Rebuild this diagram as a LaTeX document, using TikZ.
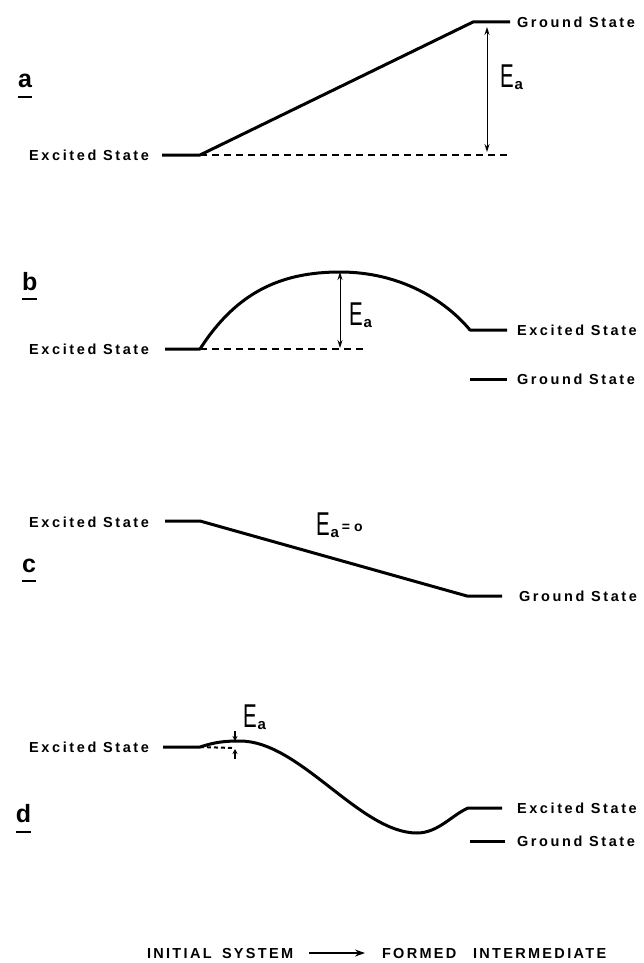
\documentclass[tikz,border=0pt]{standalone}
\usepackage{fontspec}
\setmainfont{Liberation Sans}
\newfontfamily\spacedlab[LetterSpace=18]{Liberation Sans}
\newfontfamily\spacedbot[LetterSpace=16]{Liberation Sans}
\usetikzlibrary{arrows.meta}
\newcommand{\EaSym}{\scalebox{0.62}[1]{\fontsize{33}{33}\selectfont E}\kern1pt\raisebox{-2pt}{\bfseries\fontsize{15}{15}\selectfont a}}
\tikzset{
 every node/.style={inner sep=0pt, outer sep=0pt},
 pes/.style={line width=3pt, line join=round},
 dashln/.style={line width=2pt, dash pattern=on 7pt off 5pt},
 dashsm/.style={line width=2pt, dash pattern=on 4pt off 3pt},
 earrow/.style={line width=1pt, {Stealth[length=8pt,width=5pt]}-{Stealth[length=8pt,width=5pt]}},
 smarrow/.style={line width=1.2pt, -{Stealth[length=5pt,width=5pt]}},
 statelbl/.style={font=\spacedlab\bfseries\fontsize{14.5}{15}\selectfont},
 panel/.style={font=\bfseries\fontsize{25}{25}\selectfont, anchor=base west},
 uline/.style={line width=2pt},
 eanode/.style={anchor=base west},
 botlbl/.style={font=\spacedbot\bfseries\fontsize{14.5}{15}\selectfont, anchor=base west},
 botarrow/.style={line width=1.4pt, -{Stealth[length=10pt,width=7pt]}},
}
\begin{document}
\begin{tikzpicture}[x=1pt,y=-1pt]
\useasboundingbox (0,0) rectangle (643,963);

% ---------- panel a ----------
\node[panel] (la) at (18,88) {a};
\draw[uline] ([yshift=-9pt]la.base west) -- ([yshift=-9pt]la.base east);
\coordinate (aE1) at (162,155);
\coordinate (aE2) at (200,155);
\coordinate (aG1) at (473,22);
\coordinate (aG2) at (510,22);
\coordinate (aD) at (510,155);
\coordinate (aAt) at (487,27);
\coordinate (aAb) at (487,152);
\draw[pes] (aE1) -- (aE2) -- (aG1) -- (aG2);
\draw[dashln] (aE2) -- (aD);
\draw[earrow] (aAt) -- (aAb);
\node[statelbl, anchor=east] (aEt) at (149,155) {Excited State};
\node[statelbl, anchor=west] (aGt) at (517,22) {Ground State};
\node[eanode] (aEa) at (500,88) {\EaSym};

% ---------- panel b ----------
\node[panel] (lb) at (22,290) {b};
\draw[uline] ([yshift=-9pt]lb.base west) -- ([yshift=-9pt]lb.base east);
\coordinate (bE1) at (165,349);
\coordinate (bE2) at (200,349);
\coordinate (bP) at (340,272);
\coordinate (bR1) at (470,330);
\coordinate (bR2) at (507,330);
\coordinate (bD) at (363,349);
\coordinate (bG1) at (470,379);
\coordinate (bG2) at (507,379);
\coordinate (bAb) at (340,348);
\draw[pes] (bE1) -- (bE2) .. controls (236,293) and (280,272) .. (bP)
  .. controls (400,272) and (445,300) .. (bR1) -- (bR2);
\draw[dashln] (bE2) -- (bD);
\draw[earrow] (bP) -- (bAb);
\draw[pes] (bG1) -- (bG2);
\node[statelbl, anchor=east] (bEt) at (149,349) {Excited State};
\node[statelbl, anchor=west] (bRt) at (517,330) {Excited State};
\node[statelbl, anchor=west] (bGt) at (517,379) {Ground State};
\node[eanode] (bEa) at (349,325) {\EaSym};

% ---------- panel c ----------
\node[panel] (lc) at (22,572) {c};
\draw[uline] ([yshift=-9pt]lc.base west) -- ([yshift=-9pt]lc.base east);
\coordinate (cE1) at (165,521);
\coordinate (cE2) at (200,521);
\coordinate (cG1) at (467,596);
\coordinate (cG2) at (502,596);
\draw[pes] (cE1) -- (cE2) -- (cG1) -- (cG2);
\node[statelbl, anchor=east] (cEt) at (149,522) {Excited State};
\node[statelbl, anchor=west] (cGt) at (519,596) {Ground State};
\node[eanode] (cEa) at (316,535) {\EaSym\kern3pt\raisebox{4pt}{\bfseries\fontsize{14}{14}\selectfont = o}};

% ---------- panel d ----------
\node[panel] (ld) at (16,822) {d};
\draw[uline] ([yshift=-10pt]ld.base west) -- ([yshift=-10pt]ld.base east);
\coordinate (dE1) at (163,747);
\coordinate (dE2) at (200,747);
\coordinate (dP) at (240,741);
\coordinate (dT) at (417,833);
\coordinate (dR1) at (468,808);
\coordinate (dR2) at (502,808);
\coordinate (dD) at (233,748);
\coordinate (dG1) at (470,841);
\coordinate (dG2) at (505,841);
\coordinate (dAt) at (235,731);
\coordinate (dAtE) at (235,741);
\coordinate (dAb) at (235,759);
\coordinate (dAbE) at (235,749);
\draw[pes] (dE1) -- (dE2) .. controls (215,742) and (225,741) .. (dP)
  .. controls (300,741) and (360,833) .. (dT)
  .. controls (438,833) and (452,815) .. (dR1) -- (dR2);
\draw[dashsm] (dE2) -- (dD);
\draw[smarrow] (dAt) -- (dAtE);
\draw[smarrow] (dAb) -- (dAbE);
\draw[pes] (dG1) -- (dG2);
\node[statelbl, anchor=east] (dEt) at (149,747) {Excited State};
\node[statelbl, anchor=west] (dRt) at (517,808) {Excited State};
\node[statelbl, anchor=west] (dGt) at (517,841) {Ground State};
\node[eanode] (dEa) at (243,727) {\EaSym};

% ---------- bottom caption ----------
\node[botlbl] (w1) at (147,958) {INITIAL};
\node[botlbl] (w2) at (222,958) {SYSTEM};
\node[botlbl] (w3) at (382,958) {FORMED};
\node[botlbl] (w4) at (473,958) {INTERMEDIATE};
\draw[botarrow] ([xshift=16pt]w2.east) -- ([xshift=-17pt]w3.west);
\end{tikzpicture}
\end{document}
